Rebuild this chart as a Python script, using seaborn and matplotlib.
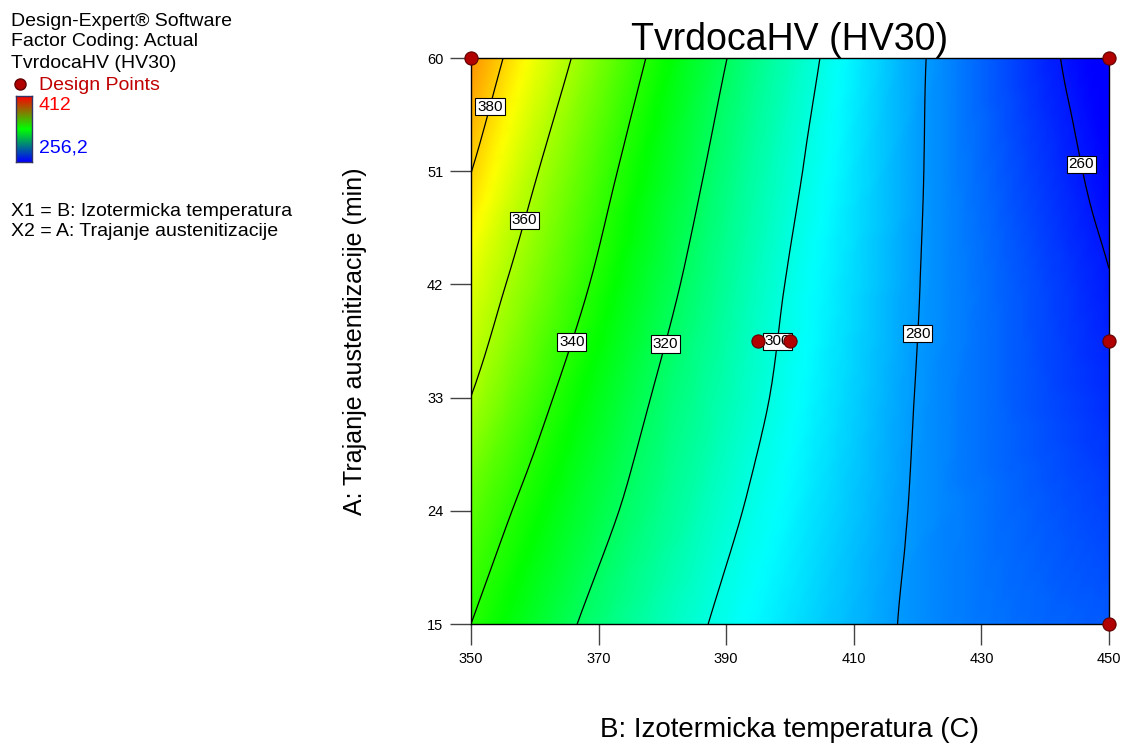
import numpy as np
import matplotlib
matplotlib.use("Agg")
import matplotlib.pyplot as plt
import matplotlib.tri as mtri
from matplotlib.colors import LinearSegmentedColormap
import seaborn as sns

# grid the response was read on (temperature in C, time in min)
temp = [350, 360, 370, 380, 390, 400, 410, 420, 430, 440, 450]
time = [15, 24, 33, 42, 51, 60]

# TvrdocaHV values, one row per time value
hv_15 = [340.0, 327.7, 316.3, 306.4, 297.7, 291.1, 284.5, 278.2, 274.5, 272.0, 270.0]
hv_24 = [348.1, 335.6, 323.6, 312.7, 302.3, 294.0, 286.4, 279.0, 274.0, 270.0, 266.5]
hv_33 = [359.9, 344.1, 330.4, 317.8, 307.0, 296.9, 288.2, 279.6, 273.5, 268.0, 263.0]
hv_42 = [368.6, 353.0, 337.9, 323.7, 311.0, 299.1, 289.7, 280.3, 273.6, 267.0, 260.4]
hv_51 = [380.2, 361.0, 344.6, 329.4, 315.3, 302.3, 291.4, 280.9, 272.6, 264.5, 256.9]
hv_60 = [389.8, 370.5, 352.5, 335.8, 320.2, 306.2, 293.3, 281.4, 271.6, 262.0, 254.0]

contour_levels = [260, 280, 300, 320, 340, 360, 380]
hv_min, hv_max = 256.2, 412

# design points
pts_temp = [350, 450, 450, 450, 395, 400]
pts_time = [60, 60, 37.5, 15, 37.5, 37.5]

sns.set_theme(style="white")
plt.rcParams['font.family'] = ['Liberation Sans', 'DejaVu Sans']
plt.rcParams['text.color'] = 'black'
plt.rcParams['axes.labelcolor'] = 'black'
plt.rcParams['xtick.color'] = '#444444'
plt.rcParams['ytick.color'] = '#444444'
plt.rcParams['xtick.labelcolor'] = 'black'
plt.rcParams['ytick.labelcolor'] = 'black'

Z = np.array([hv_15, hv_24, hv_33, hv_42, hv_51, hv_60])
X, Y = np.meshgrid(temp, time)

# regular triangulation of the grid (same diagonal in every cell)
nx, ny = len(temp), len(time)
triangles = []
for j in range(ny - 1):
    for i in range(nx - 1):
        a = j * nx + i
        b, c, d = a + 1, a + nx, a + nx + 1
        triangles.append([a, b, d])
        triangles.append([a, d, c])
tri = mtri.Triangulation(X.ravel(), Y.ravel(), triangles)
interp = mtri.CubicTriInterpolator(tri, Z.ravel(), kind='geom')
refiner = mtri.UniformTriRefiner(tri)
tri_fine, z_fine = refiner.refine_field(Z.ravel(), triinterpolator=interp, subdiv=3)

cmap = LinearSegmentedColormap.from_list(
    "de_rainbow", ["#0000ff", "#00ffff", "#00ff00", "#ffff00", "#ff0000"])

fig = plt.figure(figsize=(11.21, 7.44), dpi=100)
ax = fig.add_axes([471 / 1121, 120 / 744, 638 / 1121, 566 / 744])

ax.tripcolor(tri_fine, z_fine, cmap=cmap, vmin=hv_min, vmax=hv_max, shading='gouraud')
cs = ax.tricontour(tri_fine, z_fine, levels=contour_levels, colors='black', linewidths=0.9)
label_spots = [(445.3, 51.5), (419.6, 38.1), (397.5, 37.5), (380.0, 37.3),
               (365.4, 37.5), (358.3, 47.1), (352.5, 56.2)]
lbls = ax.clabel(cs, fmt='%d', fontsize=11, inline=False, manual=label_spots)
for t in lbls:
    t.set_rotation(0)
    t.set_color('black')
    t.set_bbox(dict(boxstyle='square,pad=0.12', fc='white', ec='black', lw=0.8))

sns.scatterplot(x=pts_temp, y=pts_time, ax=ax, s=90, color='#b00000',
                edgecolor='#600000', linewidth=0.8, zorder=10, clip_on=False,
                legend=False)

ax.set_xlim(350, 450)
ax.set_ylim(15, 60)
ax.set_xticks([350, 370, 390, 410, 430, 450])
ax.set_yticks([15, 24, 33, 42, 51, 60])
ax.tick_params(axis='both', direction='out', length=15, width=1,
               labelsize=10.5, pad=5, bottom=True, left=True)
for sp in ax.spines.values():
    sp.set_color('black')
    sp.set_linewidth(1)

ax.set_title("TvrdocaHV (HV30)", fontsize=27, pad=6)
ax.set_xlabel("B: Izotermicka temperatura (C)", fontsize=20)
ax.set_ylabel("A: Trajanje austenitizacije (min)", fontsize=18)
ax.xaxis.label.set_va('center')
ax.yaxis.label.set_va('center')
ax.xaxis.set_label_coords(0.5, -106 / 566)
ax.yaxis.set_label_coords((355 - 471) / 638, 0.5)

# left information panel
fs = 14
fig.text(11 / 1121, 1 - 21 / 744, "Design-Expert® Software", fontsize=fs, va='center')
fig.text(11 / 1121, 1 - 42 / 744, "Factor Coding: Actual", fontsize=fs, va='center')
fig.text(11 / 1121, 1 - 64 / 744, "TvrdocaHV (HV30)", fontsize=fs, va='center')
fig.text(39 / 1121, 1 - 85 / 744, "Design Points", fontsize=fs, va='center', color='#c00000')
fig.lines.append(plt.Line2D([20 / 1121], [1 - 84 / 744], transform=fig.transFigure,
                            marker='o', ms=8, mfc='#b00000', mec='#600000', ls=''))
cax = fig.add_axes([16 / 1121, 1 - 162 / 744, 16 / 1121, 66 / 744])
bar_cmap = LinearSegmentedColormap.from_list("bar", ["#0000ff", "#00ff00", "#ff0000"])
cax.imshow(np.linspace(0, 1, 100)[:, None], aspect='auto', cmap=bar_cmap, origin='lower')
cax.set_xticks([])
cax.set_yticks([])
for sp in cax.spines.values():
    sp.set_color('#333366')
    sp.set_linewidth(1)
fig.text(39 / 1121, 1 - 106 / 744, "412", fontsize=fs, va='center', color='#ff0000')
fig.text(39 / 1121, 1 - 148 / 744, "256,2", fontsize=fs, va='center', color='#0000ff')
fig.text(11 / 1121, 1 - 211 / 744, "X1 = B: Izotermicka temperatura", fontsize=fs, va='center')
fig.text(11 / 1121, 1 - 232 / 744, "X2 = A: Trajanje austenitizacije", fontsize=fs, va='center')

fig.savefig("out.png", dpi=100)
